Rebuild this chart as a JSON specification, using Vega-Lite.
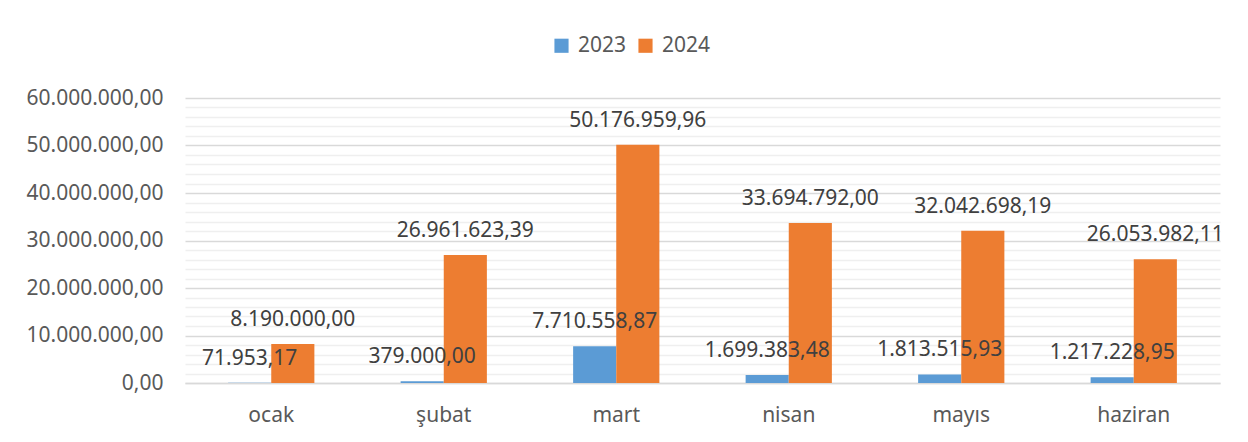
{
  "$schema": "https://vega.github.io/schema/vega-lite/v6.json",
  "autosize": "none",
  "width": 1035,
  "height": 285,
  "padding": {"left": 185, "top": 98, "right": 28, "bottom": 59},
  "background": "white",
  "config": {
    "locale": {"number": {"decimal": ",", "thousands": ".", "grouping": [3], "currency": ["", ""]}},
    "font": "Noto Sans",
    "view": {"stroke": null}
  },
  "data": {"values": [
    {"month": "ocak", "year": "2023", "value": 71953.17},
    {"month": "ocak", "year": "2024", "value": 8190000.00},
    {"month": "şubat", "year": "2023", "value": 379000.00},
    {"month": "şubat", "year": "2024", "value": 26961623.39},
    {"month": "mart", "year": "2023", "value": 7710558.87},
    {"month": "mart", "year": "2024", "value": 50176959.96},
    {"month": "nisan", "year": "2023", "value": 1699383.48},
    {"month": "nisan", "year": "2024", "value": 33694792.00},
    {"month": "mayıs", "year": "2023", "value": 1813515.93},
    {"month": "mayıs", "year": "2024", "value": 32042698.19},
    {"month": "haziran", "year": "2023", "value": 1217228.95},
    {"month": "haziran", "year": "2024", "value": 26053982.11}
  ]},
  "encoding": {
    "x": {
      "field": "month", "type": "nominal", "sort": null,
      "scale": {"paddingInner": 0.5, "paddingOuter": 0.25},
      "axis": {
        "title": null, "labelAngle": 0, "ticks": false, "labelPadding": 21,
        "labelFont": "Noto Sans", "labelFontSize": 21, "labelColor": "#595959",
        "domainColor": "#D9D9D9", "domainWidth": 1.5, "grid": false
      }
    },
    "xOffset": {"field": "year", "type": "nominal", "scale": {"padding": 0}},
    "y": {
      "field": "value", "type": "quantitative",
      "scale": {"domain": [0, 60000000], "nice": false},
      "axis": {
        "title": null, "domain": false, "ticks": false, "labelPadding": 22,
        "values": [0, 2000000, 4000000, 6000000, 8000000, 10000000, 12000000, 14000000, 16000000, 18000000, 20000000, 22000000, 24000000, 26000000, 28000000, 30000000, 32000000, 34000000, 36000000, 38000000, 40000000, 42000000, 44000000, 46000000, 48000000, 50000000, 52000000, 54000000, 56000000, 58000000, 60000000],
        "format": ",.2f",
        "labelExpr": "datum.value % 10000000 === 0 ? datum.label : ''",
        "labelFont": "Noto Sans", "labelFontSize": 21, "labelColor": "#595959",
        "grid": true,
        "gridColor": {"condition": {"test": "datum.value % 10000000 === 0", "value": "#D9D9D9"}, "value": "#EFEFEF"},
        "gridWidth": 1.5
      }
    }
  },
  "layer": [
    {
      "mark": {"type": "bar"},
      "encoding": {
        "color": {
          "field": "year", "type": "nominal",
          "scale": {"domain": ["2023", "2024"], "range": ["#5B9BD5", "#ED7D31"]},
          "legend": {
            "title": null, "orient": "none", "direction": "horizontal",
            "legendX": 366, "legendY": -63,
            "symbolType": "square", "symbolSize": 200, "symbolStrokeWidth": 0,
            "labelFont": "Noto Sans", "labelFontSize": 21, "labelColor": "#595959",
            "columnPadding": 8, "labelOffset": 6
          }
        }
      }
    },
    {
      "mark": {"type": "text", "baseline": "alphabetic", "dy": -18, "font": "Noto Sans", "fontSize": 21, "color": "#404040"},
      "encoding": {
        "text": {"field": "value", "type": "quantitative", "format": ",.2f"}
      }
    }
  ]
}
